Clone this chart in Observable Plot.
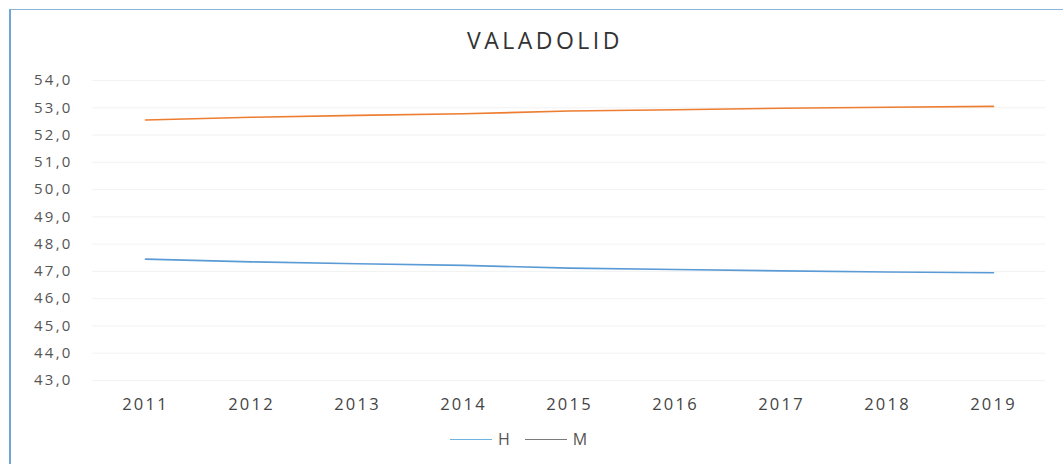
<!DOCTYPE html>
<html>
<head>
<meta charset="utf-8">
<script src="https://cdn.jsdelivr.net/npm/d3@7"></script>
<script src="https://cdn.jsdelivr.net/npm/@observablehq/plot@0.6"></script>
<style>
  html, body { margin: 0; padding: 0; background: #fff; }
  #wrap { position: relative; width: 1063px; height: 464px; overflow: hidden; font-family: "Open Sans", sans-serif; }
  #frame { position: absolute; left: 9px; top: 9px; right: -5px; bottom: -5px; border-left: 2px solid #6fa6d8; border-top: 1.5px solid #8ab6de; }
  #title { position: absolute; left: 0; width: 1090px; top: 25px; text-align: center; font-size: 23px; line-height: 30px; color: #333; letter-spacing: 3.5px; }
  #chart { position: absolute; left: 0; top: 60px; }
  #chart svg text { letter-spacing: 2.2px; }
  #legend { position: absolute; left: 450px; top: 428px; display: flex; align-items: center; font-size: 16px; color: #555; letter-spacing: 1px; }
  .item { display: flex; align-items: center; margin-right: 14px; }
</style>
</head>
<body>
<div id="wrap">
  <div id="frame"></div>
  <div id="title">VALADOLID</div>
  <div id="chart"></div>
  <div id="legend"></div>
</div>
<script>
const years = [2011, 2012, 2013, 2014, 2015, 2016, 2017, 2018, 2019];
const seriesNames = ["H", "M"];
const seriesColors = ["#5b9bd5", "#ed7d31"];
const legendColors = ["#6fb3e0", "#7a7a7a"];
const valuesH = [47.45, 47.35, 47.28, 47.22, 47.12, 47.07, 47.02, 46.98, 46.95];
const valuesM = [52.55, 52.65, 52.72, 52.78, 52.88, 52.93, 52.98, 53.02, 53.05];
const yTicks = [43, 44, 45, 46, 47, 48, 49, 50, 51, 52, 53, 54];

const rows = [];
years.forEach((yr, i) => {
  rows.push({year: yr, value: valuesH[i], serie: "H"});
  rows.push({year: yr, value: valuesM[i], serie: "M"});
});

const plot = Plot.plot({
  width: 1063,
  height: 360,
  marginTop: 20,
  marginBottom: 40,
  marginLeft: 92,
  marginRight: 18,
  style: {fontFamily: "Open Sans, sans-serif", background: "transparent"},
  x: {type: "point", domain: years, range: [145, 993], padding: 0, label: null},
  y: {domain: [43, 54], label: null},
  color: {domain: seriesNames, range: seriesColors},
  marks: [
    Plot.gridY(yTicks, {stroke: "#e6e6e6", strokeOpacity: 0.5}),
    Plot.axisY(yTicks, {tickSize: 0, tickPadding: 20, tickFormat: d => d.toFixed(1).replace(".", ","), fontSize: 15, fill: "#555", label: null}),
    Plot.axisX(years, {tickSize: 0, tickPadding: 18, tickFormat: d => String(d), fontSize: 16.5, fill: "#444", label: null}),
    Plot.line(rows, {x: "year", y: "value", z: "serie", stroke: "serie", strokeWidth: 1.6})
  ]
});
document.getElementById("chart").appendChild(plot);

const legend = document.getElementById("legend");
seriesNames.forEach((name, i) => {
  const item = document.createElement("div");
  item.className = "item";
  const sw = document.createElement("span");
  sw.style.cssText = `display:inline-block;width:42px;height:0;border-top:1.5px solid ${legendColors[i]};margin-right:6px;`;
  item.appendChild(sw);
  const t = document.createElement("span");
  t.textContent = name;
  item.appendChild(t);
  legend.appendChild(item);
});
</script>
</body>
</html>
